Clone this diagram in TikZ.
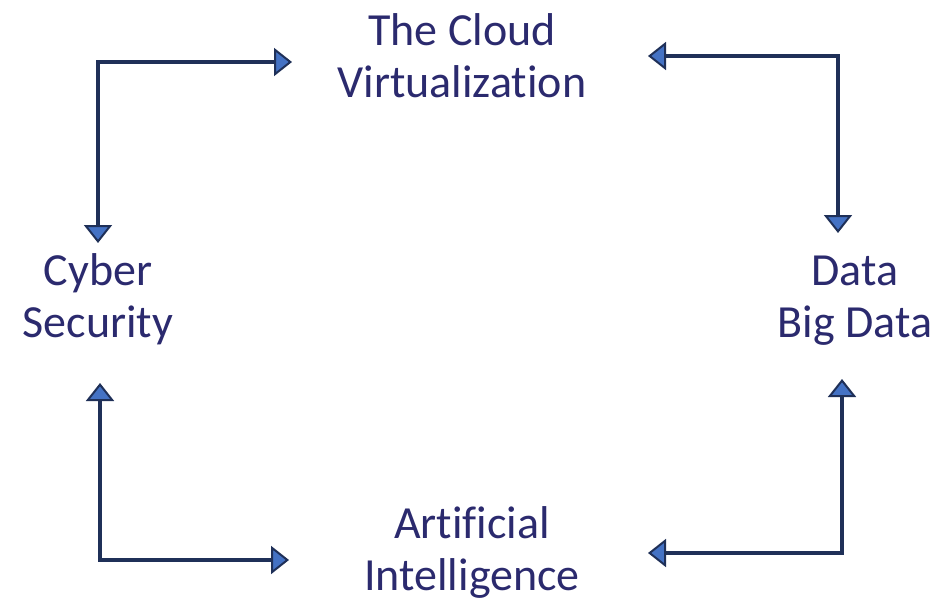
\documentclass[tikz,border=0pt]{standalone}
\usepackage{fontspec}
\setmainfont{Carlito}[Ligatures=NoCommon]
\usetikzlibrary{arrows.meta}
\definecolor{labelnavy}{RGB}{43,42,110}
\definecolor{linenavy}{RGB}{31,48,88}
\definecolor{tipblue}{RGB}{68,114,196}
\begin{document}
\begin{tikzpicture}[x=1pt,y=-1pt,
	lbl/.style={font=\fontsize{46}{52}\selectfont, text=labelnavy, align=center, anchor=base, inner sep=0pt},
	link/.style={draw=linenavy, line width=4.5pt,
		{Triangle[length=18pt, width=28pt, line width=2pt, fill=tipblue]}-{Triangle[length=18pt, width=28pt, line width=2pt, fill=tipblue]}}]
	\useasboundingbox (0,0) rectangle (933,607);
	% labels
	\node[lbl] (cloud) at (462,98) {The Cloud\\Virtualization};
	\node[lbl] (cyber) at (98,337) {Cyber\\Security};
	\node[lbl] (data) at (855,337) {Data\\Big Data};
	\node[lbl] (ai) at (472,590) {Artificial\\Intelligence};
	% arrow ends
	\coordinate (cyberup) at (98,243);
	\coordinate (cloudleft) at (292,62);
	\coordinate (cloudright) at (648,56);
	\coordinate (datadown) at (838,233);
	\coordinate (dataup) at (842,379);
	\coordinate (aiRight) at (648,553);
	\coordinate (aiLeft) at (289,560);
	\coordinate (cyberdown) at (100,383);
	\draw[link] (cyberup) |- (cloudleft);
	\draw[link] (cloudright) -| (datadown);
	\draw[link] (dataup) |- (aiRight);
	\draw[link] (cyberdown) |- (aiLeft);
\end{tikzpicture}
\end{document}
